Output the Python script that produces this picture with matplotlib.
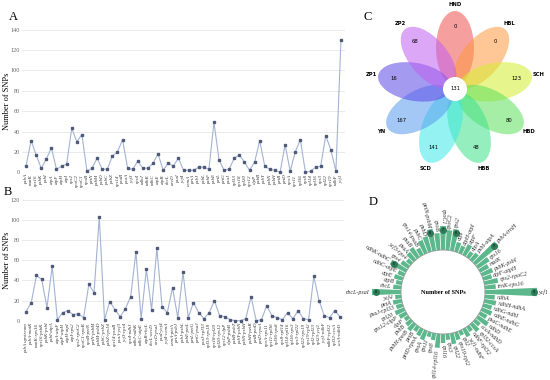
import numpy as np
import matplotlib
matplotlib.use("Agg")
import matplotlib.pyplot as plt
from matplotlib.patches import Ellipse, Circle

plt.rcParams['font.family'] = ['Liberation Serif', 'DejaVu Serif']

# ---- panel A: SNPs per gene
a_genes = ["psbA", "matK", "rps16", "psbK", "psbI", "atpA", "atpF", "atpH", "atpI", "rps2",
           "rpoC2", "rpoC1", "rpoB", "petN", "psbM", "psbD", "psbC", "psbZ", "rps14", "psaB",
           "psaA", "ycf3", "rps4", "ndhJ", "ndhK", "ndhC", "atpE", "atpB", "rbcL", "accD",
           "psaI", "ycf4", "cemA", "petA", "psbJ", "psbL", "psbF", "psbE", "petL", "petG",
           "psaJ", "rpl33", "rps18", "rpl20", "rps12", "clpP", "psbB", "psbT", "psbN", "psbH",
           "petB", "petD", "rpoA", "rps11", "rpl36", "rps8", "rpl14", "rpl16", "rps3", "rpl22",
           "rps19", "ndhF", "ycf1"]
a_snps = [6, 31, 17, 4, 13, 24, 3, 6, 8, 43, 30, 37, 1, 4, 14, 3, 3, 16, 20, 32,
          4, 3, 11, 4, 4, 9, 18, 2, 9, 6, 14, 2, 2, 2, 5, 5, 3, 49, 12, 2,
          3, 14, 17, 10, 2, 10, 31, 6, 3, 2, 0, 27, 1, 20, 32, 0, 1, 5, 6, 36,
          22, 1, 130]

# ---- panel B: SNPs per intergenic region
b_regions = ["psbA upstream", "psbA-matK", "matK-rps16", "rps16-psbK", "psbK-psbI", "psbI-atpA",
             "atpA-atpF", "atpF-atpH", "atpH-atpI", "atpI-rps2", "rps2-rpoC2", "rpoC1-rpoB",
             "rpoB-petN", "petN-psbM", "psbM-psbD", "psbC-psbZ", "psbZ-rps14", "rps14-psaB",
             "psaA-ycf3", "ycf3-rps4", "rps4-ndhJ", "ndhJ-ndhK", "ndhC-atpE", "atpB-rbcL",
             "rbcL-accD", "accD-psaI", "psaI-ycf4", "ycf4-cemA", "cemA-petA", "petA-psbJ",
             "psbJ-psbL", "psbE-petL", "petL-petG", "petG-psaJ", "psaJ-rpl33", "rpl33-rps18",
             "rps18-rpl20", "rpl20-rps12", "rps12-clpP", "clpP-psbB", "psbB-psbT", "psbT-psbN",
             "psbN-psbH", "psbH-petB", "petB-petD", "petD-rpoA", "rpoA-rps11", "rps11-rpl36",
             "rpl36-rps8", "rps8-rpl14", "rpl14-rpl16", "rpl16-rps3", "rps3-rpl22", "rpl22-rps19",
             "rps19-rpl2", "rpl2-rpl23", "rpl23-ycf2", "ycf1-ndhF", "ndhF-rpl32", "rpl32-ccsA",
             "ccsA-ndhD"]
b_snps = [9, 18, 45, 41, 13, 54, 1, 8, 10, 6, 7, 3, 36, 28, 103, 1, 19, 11, 4, 12,
          24, 68, 2, 51, 11, 72, 14, 8, 33, 3, 48, 3, 18, 8, 2, 8, 20, 5, 4, 1,
          0, 0, 2, 24, 0, 1, 15, 5, 3, 1, 8, 2, 10, 2, 1, 44, 20, 5, 3, 10, 4]

# ---- panel C: flower Venn
venn_pops = ["HND", "HBL", "SCH", "HBD", "HBB", "SCD", "YN", "ZP1", "ZP2"]
venn_unique = [0, 0, 123, 80, 48, 141, 167, 16, 68]
venn_core = 131
venn_colors = ['#f05050', '#ff9a40', '#d4ee30', '#5ee05e', '#3ee08a',
               '#3ee8e8', '#5a9cf0', '#5a4ae6', '#c060f0']

# ---- panel D: circular bars (clockwise from the right)
d_regions = ["ycf1", "ndhA", "ndhH-ndhA", "ndhG-ndhI", "ndhE-ndhG", "psaC-ndhE", "ndhD",
             "ccsA-ndhD", "rpl32-ccsA", "ndhF-rpl32", "ycf1-ndhF", "rpl2", "rps19-rpl2",
             "rpl22", "rps3", "rpl16", "rpl14-rpl16", "rps8", "rps11", "rpoA", "petD-rpoA",
             "petB", "psbH-petB", "psbB", "clpP", "rps12-clpP", "rpl20", "psaJ-rpl33", "petA",
             "ycf4", "rbcL-psaI", "rbcL", "atpB", "atpE", "ndhC-atpE", "ndhK-ndhC", "rps4",
             "ycf3-rps4", "psaA", "psaB", "rps14-psaB", "psbC", "psbD", "petN-psbM", "rpoB",
             "rpoC1", "rpoC2", "rps2", "atpI", "atpH-atpI", "atpF", "atpA", "psbI-atpA",
             "psbA-trnH", "rps16", "matK", "psbK-psbI", "atpF-atpH", "rps2-rpoC2", "trnK-rps16"]
d_vals = [52, 10, 12, 9, 11, 8, 13, 7, 10, 6, 9, 5, 8, 11, 6, 9, 14, 7, 5, 10,
          8, 6, 9, 7, 5, 8, 10, 7, 9, 6, 29, 8, 6, 9, 7, 18, 9, 6, 10, 12,
          8, 14, 16, 22, 17, 24, 20, 22, 10, 8, 12, 7, 9, 30, 14, 10, 12, 9, 14, 11]
d_marks = {0: "9", 30: "8", 35: "6", 43: "8", 45: "7", 47: "8", 53: "9"}

W, H = 550, 380
fig = plt.figure(figsize=(W / 100, H / 100), dpi=100)


def px_axes(x0, y0, x1, y1, **kw):
    # box in pixels, origin top-left
    return fig.add_axes([x0 / W, 1 - y1 / H, (x1 - x0) / W, (y1 - y0) / H], **kw)


def line_panel(ax, labels, values, ymax, pad):
    x = np.arange(len(values))
    ax.plot(x, values, color='#a3b3d3', lw=0.8, marker='s', ms=1.6,
            mfc='#4e5a78', mec='#4e5a78', clip_on=False, zorder=3)
    ax.set_xlim(-pad, len(values) - 1 + pad)
    ax.set_ylim(0, ymax)
    ax.set_yticks(np.arange(0, ymax + 1, 20))
    ax.grid(axis='y', color='#e6e6e6', lw=0.6)
    ax.set_axisbelow(True)
    for s in ax.spines.values():
        s.set_visible(False)
    ax.set_xticks(x)
    ax.set_xticklabels(labels, rotation=90, fontsize=3.6, style='italic', color='#333333')
    ax.tick_params(axis='both', length=0, pad=1.5)
    ax.tick_params(axis='y', labelsize=4.5, labelcolor='#666666')
    ax.set_ylabel('Number of SNPs', fontsize=6)
    ax.yaxis.set_label_coords(-0.033, 0.5)


axa = px_axes(22, 29.5, 345, 172.3)
line_panel(axa, a_genes, a_snps, 140, 0.79)
axb = px_axes(22, 200, 344, 320.7)
line_panel(axb, b_regions, b_snps, 120, 0.77)

# Venn
axc = px_axes(360, 0, 550, 180)
axc.set_xlim(-95, 95)
axc.set_ylim(-91, 89)
axc.axis('off')
for k, (name, n, col) in enumerate(zip(venn_pops, venn_unique, venn_colors)):
    ang = 90 - 40 * k
    c, s = np.cos(np.deg2rad(ang)), np.sin(np.deg2rad(ang))
    axc.add_patch(Ellipse((41 * c, 41 * s), 74, 38, angle=ang, fc=col, ec='none', alpha=0.55))
    axc.text(62 * c, 62 * s, str(n), fontsize=3.8, ha='center', va='center', family='DejaVu Sans')
    axc.text(85 * c, 85 * s, name, fontsize=3.8, ha='center', va='center',
             family='DejaVu Sans', fontweight='bold')
axc.add_patch(Circle((0, 0), 12, fc='white', ec='none', zorder=5))
axc.text(0, 0, str(venn_core), fontsize=3.8, ha='center', va='center',
         family='DejaVu Sans', zorder=6)

# circular bars
inner = 42
axd = px_axes(343, 192, 543, 392, projection='polar')
axd.set_theta_zero_location('E')
axd.set_theta_direction(-1)
axd.set_ylim(0, 100)
axd.axis('off')
n = len(d_vals)
theta = np.deg2rad(np.arange(n) * 360 / n)
axd.bar(theta, d_vals, width=2 * np.pi / n * 0.85, bottom=inner, color='#5db78c', edgecolor='none')
ring = np.linspace(0, 2 * np.pi, 400)
axd.plot(ring, np.full_like(ring, inner), color='#999999', lw=0.6)
for i, (lab, v) in enumerate(zip(d_regions, d_vals)):
    a = -i * 360 / n
    right = np.cos(np.deg2rad(a)) >= 0
    axd.text(theta[i], inner + v + 2, lab, fontsize=4.3, style='italic', color='#333333',
             rotation=a if right else a + 180, rotation_mode='anchor',
             ha='left' if right else 'right', va='center')
for i, t in d_marks.items():
    r = inner + d_vals[i] - 3.5
    axd.plot(theta[i], r, 'o', ms=4, color='#2f7a58')
    axd.text(theta[i], r, t, fontsize=3.2, ha='center', va='center', color='#111111')
axd.text(0, 0, 'Number of SNPs', fontsize=4.5, fontweight='bold', ha='center', va='center')

for lab, x, y in [("A", 13, 17), ("B", 8, 192), ("C", 368, 17), ("D", 373, 202)]:
    fig.text(x / W, 1 - y / H, lab, fontsize=9, ha='center', va='center')

fig.savefig('out.png', dpi=100)
